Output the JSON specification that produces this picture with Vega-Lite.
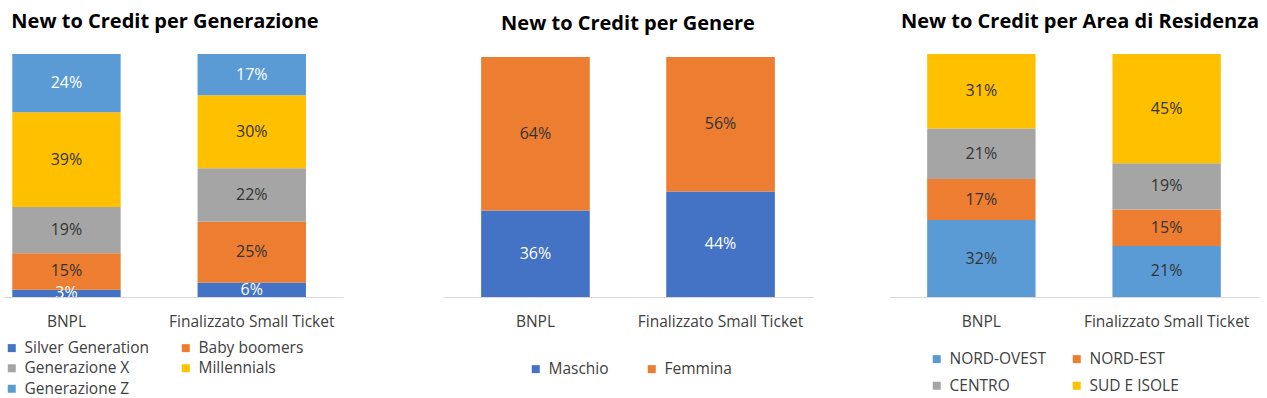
{
  "$schema": "https://vega.github.io/schema/vega-lite/v6.json",
  "padding": {"left": 3, "top": 12, "right": 0, "bottom": 0},
  "background": "white",
  "config": {
    "font": "Open Sans",
    "view": {"stroke": null},
    "title": {"fontSize": 20, "fontWeight": "bold", "color": "#000000", "anchor": "middle", "offset": 22},
    "axisX": {"title": null, "labelAngle": 0, "ticks": false, "domainColor": "#D9D9D9", "domainWidth": 1, "labelFontSize": 15.5, "labelColor": "#404040", "labelPadding": 17, "grid": false},
    "legend": {"title": null, "symbolType": "square", "symbolSize": 64, "symbolStrokeWidth": 0, "labelFontSize": 15.5, "labelColor": "#404040", "labelOffset": 5, "padding": 0}
  },
  "datasets": {
    "gen": [
      {"cat": "BNPL", "s": "Silver Generation", "k": 1, "v": 0.03},
      {"cat": "BNPL", "s": "Baby boomers", "k": 2, "v": 0.15},
      {"cat": "BNPL", "s": "Generazione X", "k": 3, "v": 0.19},
      {"cat": "BNPL", "s": "Millennials", "k": 4, "v": 0.39},
      {"cat": "BNPL", "s": "Generazione Z", "k": 5, "v": 0.24},
      {"cat": "Finalizzato Small Ticket", "s": "Silver Generation", "k": 1, "v": 0.06},
      {"cat": "Finalizzato Small Ticket", "s": "Baby boomers", "k": 2, "v": 0.25},
      {"cat": "Finalizzato Small Ticket", "s": "Generazione X", "k": 3, "v": 0.22},
      {"cat": "Finalizzato Small Ticket", "s": "Millennials", "k": 4, "v": 0.30},
      {"cat": "Finalizzato Small Ticket", "s": "Generazione Z", "k": 5, "v": 0.17}
    ],
    "sex": [
      {"cat": "BNPL", "s": "Maschio", "k": 1, "v": 0.36},
      {"cat": "BNPL", "s": "Femmina", "k": 2, "v": 0.64},
      {"cat": "Finalizzato Small Ticket", "s": "Maschio", "k": 1, "v": 0.44},
      {"cat": "Finalizzato Small Ticket", "s": "Femmina", "k": 2, "v": 0.56}
    ],
    "area": [
      {"cat": "BNPL", "s": "NORD-OVEST", "k": 1, "v": 0.32},
      {"cat": "BNPL", "s": "NORD-EST", "k": 2, "v": 0.17},
      {"cat": "BNPL", "s": "CENTRO", "k": 3, "v": 0.21},
      {"cat": "BNPL", "s": "SUD E ISOLE", "k": 4, "v": 0.31},
      {"cat": "Finalizzato Small Ticket", "s": "NORD-OVEST", "k": 1, "v": 0.21},
      {"cat": "Finalizzato Small Ticket", "s": "NORD-EST", "k": 2, "v": 0.15},
      {"cat": "Finalizzato Small Ticket", "s": "CENTRO", "k": 3, "v": 0.19},
      {"cat": "Finalizzato Small Ticket", "s": "SUD E ISOLE", "k": 4, "v": 0.45}
    ]
  },
  "resolve": {"scale": {"x": "independent", "y": "independent", "color": "independent"}, "legend": {"color": "independent"}},
  "spacing": 100,
  "hconcat": [
    {
      "title": {"text": "New to Credit per Generazione", "dx": -8},
      "width": 340,
      "height": 243,
      "data": {"name": "gen"},
      "transform": [
        {"stack": "v", "groupby": ["cat"], "sort": [{"field": "k"}], "offset": "normalize", "as": ["y0", "y1"]},
        {"calculate": "(datum.y0 + datum.y1) / 2", "as": "ym"}
      ],
      "encoding": {
        "x": {"field": "cat", "type": "nominal", "sort": null, "scale": {"paddingInner": 0.415, "paddingOuter": 0.125, "align": 0.2}}
      },
      "layer": [
        {
          "mark": {"type": "bar"},
          "encoding": {
            "y": {"field": "y0", "type": "quantitative", "scale": {"domain": [0, 1], "nice": false}, "axis": null},
            "y2": {"field": "y1"},
            "color": {"field": "s", "type": "nominal",
              "scale": {"domain": ["Silver Generation", "Generazione X", "Generazione Z", "Baby boomers", "Millennials"], "range": ["#4472C4", "#A5A5A5", "#5B9BD5", "#ED7D31", "#FFC000"]},
              "legend": {"orient": "none", "legendX": 1, "legendY": 286, "columns": 2, "columnPadding": 28, "rowPadding": 3.5}}
          }
        },
        {
          "mark": {"type": "text", "fontSize": 16, "clip": true},
          "encoding": {
            "y": {"field": "ym", "type": "quantitative"},
            "text": {"field": "v", "type": "quantitative", "format": ".0%"},
            "color": {"condition": {"test": "datum.s === 'Silver Generation' || datum.s === 'Generazione Z'", "value": "#FFFFFF"}, "value": "#333333"}
          }
        }
      ]
    },
    {
      "spacing": 76,
      "resolve": {"scale": {"x": "independent", "y": "independent", "color": "independent"}, "legend": {"color": "independent"}},
      "hconcat": [
        {
          "title": {"text": "New to Credit per Genere", "offset": 20},
          "width": 370,
          "height": 243,
          "data": {"name": "sex"},
          "transform": [
            {"stack": "v", "groupby": ["cat"], "sort": [{"field": "k"}], "offset": "normalize", "as": ["y0", "y1"]},
            {"calculate": "(datum.y0 + datum.y1) / 2", "as": "ym"}
          ],
          "encoding": {
            "x": {"field": "cat", "type": "nominal", "sort": null, "scale": {"paddingInner": 0.413, "paddingOuter": 0.206, "align": 0.5}}
          },
          "layer": [
            {
              "mark": {"type": "bar"},
              "encoding": {
                "y": {"field": "y0", "type": "quantitative", "scale": {"domain": [0, 1.0125], "nice": false}, "axis": null},
                "y2": {"field": "y1"},
                "color": {"field": "s", "type": "nominal",
                  "scale": {"domain": ["Maschio", "Femmina"], "range": ["#4472C4", "#ED7D31"]},
                  "legend": {"orient": "none", "legendX": 85, "legendY": 307, "columns": 2, "columnPadding": 35}}
              }
            },
            {
              "mark": {"type": "text", "fontSize": 16, "clip": true},
              "encoding": {
                "y": {"field": "ym", "type": "quantitative"},
                "text": {"field": "v", "type": "quantitative", "format": ".0%"},
                "color": {"condition": {"test": "datum.s === 'Maschio'", "value": "#FFFFFF"}, "value": "#333333"}
              }
            }
          ]
        },
        {
          "title": {"text": "New to Credit per Area di Residenza", "dx": 6},
          "width": 370,
          "height": 243,
          "data": {"name": "area"},
          "transform": [
            {"stack": "v", "groupby": ["cat"], "sort": [{"field": "k"}], "offset": "normalize", "as": ["y0", "y1"]},
            {"calculate": "(datum.y0 + datum.y1) / 2", "as": "ym"}
          ],
          "encoding": {
            "x": {"field": "cat", "type": "nominal", "sort": null, "scale": {"paddingInner": 0.415, "paddingOuter": 0.206, "align": 0.5}}
          },
          "layer": [
            {
              "mark": {"type": "bar"},
              "encoding": {
                "y": {"field": "y0", "type": "quantitative", "scale": {"domain": [0, 1], "nice": false}, "axis": null},
                "y2": {"field": "y1"},
                "color": {"field": "s", "type": "nominal",
                  "scale": {"domain": ["NORD-OVEST", "CENTRO", "NORD-EST", "SUD E ISOLE"], "range": ["#5B9BD5", "#A5A5A5", "#ED7D31", "#FFC000"]},
                  "legend": {"orient": "none", "legendX": 40, "legendY": 297, "columns": 2, "columnPadding": 23, "rowPadding": 10}}
              }
            },
            {
              "mark": {"type": "text", "fontSize": 16, "clip": true},
              "encoding": {
                "y": {"field": "ym", "type": "quantitative"},
                "text": {"field": "v", "type": "quantitative", "format": ".0%"},
                "color": {"value": "#333333"}
              }
            }
          ]
        }
      ]
    }
  ]
}
